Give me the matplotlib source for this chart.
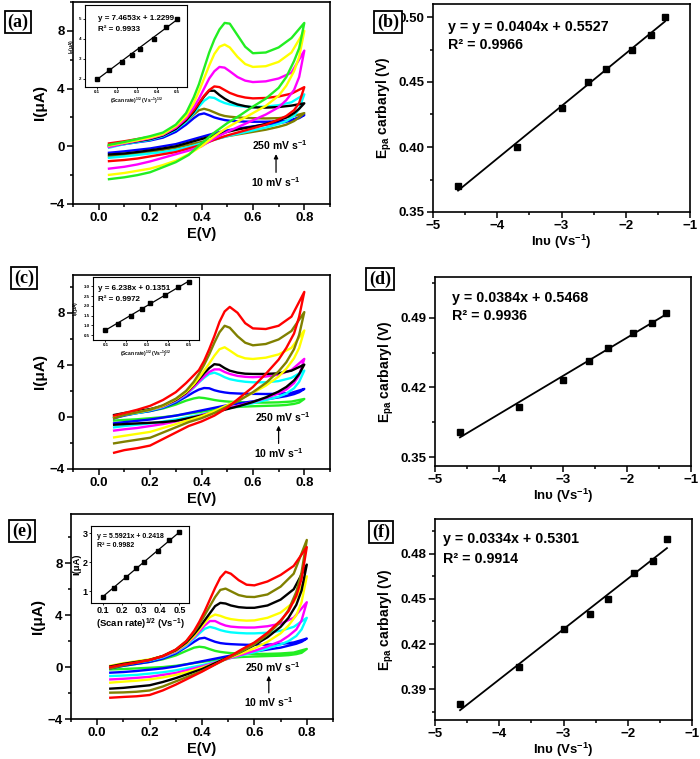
import matplotlib
matplotlib.use("Agg")
import matplotlib.pyplot as plt
from matplotlib.ticker import MultipleLocator, FixedLocator

plt.rcParams.update({
    "font.family": "Liberation Sans",
    "font.weight": "bold",
    "axes.labelweight": "bold",
    "mathtext.fontset": "custom",
    "mathtext.rm": "Liberation Sans:bold",
    "mathtext.it": "Liberation Sans:bold:italic",
    "mathtext.bf": "Liberation Sans:bold",
    "axes.linewidth": 1.2,
})

# ---------------- data ----------------
sqrt_v = [0.100, 0.158, 0.224, 0.274, 0.316, 0.387, 0.447, 0.500]
ln_v = [-4.61, -3.69, -3.00, -2.59, -2.30, -1.90, -1.61, -1.39]

# scan rate order 10 -> 250 mV/s
colors_a = ["#0000ff", "#808000", "#00ffff", "#000000", "#ff0000", "#ff00ff", "#ffff00", "#22ee22"]
colors_c = ["#22ee22", "#0000ff", "#00ffff", "#ff00ff", "#000000", "#ffff00", "#808000", "#ff0000"]
colors_e = ["#22ee22", "#0000ff", "#00ffff", "#ff00ff", "#ffff00", "#000000", "#808000", "#ff0000"]

e_fwd_mid = [0.1, 0.15, 0.2, 0.25, 0.3, 0.34, 0.37, 0.39, 0.41, 0.43, 0.45, 0.47,
             0.49, 0.51, 0.54, 0.57, 0.6, 0.65, 0.7, 0.75, 0.8]
e_rev_mid = [0.8, 0.78, 0.76, 0.73, 0.7, 0.65, 0.6, 0.55, 0.5, 0.45, 0.4, 0.35,
             0.3, 0.25, 0.2, 0.15, 0.1]
e_start_a, e_start_c, e_start_e = 0.04, 0.06, 0.05

# panel (a) currents (uA)
cv_a_fwd = [
    [0.0, 0.15, 0.28, 0.4, 0.6, 1.0, 1.5, 1.95, 2.2, 2.28, 2.15, 2.0, 1.9, 1.82, 1.77, 1.73, 1.71, 1.7, 1.7, 1.73, 1.8, 2.17],
    [0.1, 0.3, 0.45, 0.6, 0.8, 1.2, 1.7, 2.2, 2.5, 2.6, 2.5, 2.35, 2.2, 2.1, 2.05, 2.0, 1.97, 1.95, 1.93, 1.95, 2.05, 2.3],
    [-0.1, 0.15, 0.3, 0.45, 0.7, 1.15, 1.7, 2.3, 2.75, 3.15, 3.4, 3.35, 3.15, 3.0, 2.9, 2.8, 2.75, 2.72, 2.75, 2.85, 3.05, 3.6],
    [0.0, 0.2, 0.35, 0.5, 0.75, 1.2, 1.8, 2.4, 2.95, 3.45, 3.85, 3.85, 3.55, 3.3, 3.1, 2.9, 2.78, 2.7, 2.68, 2.72, 2.82, 2.98],
    [0.2, 0.35, 0.5, 0.65, 0.85, 1.3, 1.9, 2.5, 3.0, 3.5, 3.9, 4.15, 4.1, 3.9, 3.7, 3.5, 3.38, 3.32, 3.35, 3.45, 3.65, 4.1],
    [-0.05, 0.2, 0.38, 0.55, 0.8, 1.3, 1.95, 2.7, 3.3, 4.0, 4.7, 5.2, 5.5, 5.45, 5.2, 4.8, 4.55, 4.45, 4.5, 4.7, 5.1, 6.63],
    [0.05, 0.25, 0.42, 0.6, 0.85, 1.4, 2.1, 3.0, 3.8, 4.7, 5.6, 6.4, 6.9, 7.05, 6.85, 6.2, 5.7, 5.5, 5.55, 5.85, 6.5, 8.0],
    [0.1, 0.3, 0.5, 0.7, 0.95, 1.5, 2.3, 3.4, 4.3, 5.4, 6.5, 7.4, 8.1, 8.55, 8.5, 7.7, 6.9, 6.45, 6.5, 6.85, 7.5, 8.55],
]
cv_a_rev = [
    [2.17, 1.95, 1.85, 1.7, 1.6, 1.5, 1.38, 1.25, 1.1, 0.9, 0.65, 0.4, 0.15, 0.0, -0.15, -0.25, -0.35, -0.45],
    [2.3, 2.0, 1.75, 1.5, 1.35, 1.15, 1.0, 0.85, 0.7, 0.5, 0.3, 0.1, -0.1, -0.25, -0.4, -0.5, -0.6, -0.7],
    [3.6, 2.6, 2.1, 1.75, 1.55, 1.3, 1.1, 0.9, 0.7, 0.45, 0.2, -0.05, -0.25, -0.4, -0.5, -0.6, -0.7, -0.8],
    [2.98, 2.6, 2.3, 2.0, 1.8, 1.55, 1.35, 1.2, 1.0, 0.75, 0.5, 0.25, 0.0, -0.15, -0.28, -0.4, -0.5, -0.57],
    [4.1, 3.0, 2.5, 2.1, 1.85, 1.5, 1.25, 1.0, 0.75, 0.45, 0.1, -0.15, -0.4, -0.55, -0.7, -0.85, -0.95, -1.03],
    [6.63, 4.8, 3.9, 3.2, 2.7, 2.2, 1.8, 1.4, 1.0, 0.55, 0.0, -0.3, -0.55, -0.8, -1.05, -1.26, -1.42, -1.55],
    [8.0, 6.2, 5.2, 4.2, 3.5, 2.8, 2.3, 1.8, 1.3, 0.7, 0.0, -0.55, -1.0, -1.3, -1.55, -1.7, -1.85, -1.98],
    [8.55, 6.8, 5.9, 4.8, 4.05, 3.3, 2.75, 2.15, 1.6, 0.95, 0.2, -0.6, -1.1, -1.45, -1.8, -2.0, -2.15, -2.28],
]

# panel (c) currents (uA)
cv_c_fwd = [
    [0.0, 0.15, 0.3, 0.45, 0.65, 0.95, 1.25, 1.42, 1.49, 1.45, 1.38, 1.3, 1.24, 1.2, 1.17, 1.14, 1.12, 1.1, 1.1, 1.12, 1.18, 1.38],
    [-0.1, 0.1, 0.3, 0.45, 0.7, 1.1, 1.55, 1.9, 2.1, 2.22, 2.2, 2.05, 1.95, 1.88, 1.83, 1.8, 1.78, 1.77, 1.76, 1.78, 1.85, 2.15],
    [-0.05, 0.15, 0.3, 0.5, 0.75, 1.2, 1.7, 2.25, 2.65, 3.0, 3.3, 3.4, 3.25, 3.05, 2.9, 2.78, 2.7, 2.66, 2.66, 2.75, 3.0, 3.56],
    [0.05, 0.25, 0.4, 0.55, 0.8, 1.25, 1.75, 2.3, 2.7, 3.1, 3.45, 3.65, 3.65, 3.45, 3.3, 3.15, 3.08, 3.05, 3.1, 3.25, 3.6, 4.46],
    [0.15, 0.3, 0.45, 0.6, 0.85, 1.3, 1.85, 2.45, 2.9, 3.35, 3.75, 4.05, 4.0, 3.75, 3.55, 3.4, 3.32, 3.3, 3.3, 3.35, 3.55, 4.02],
    [0.0, 0.2, 0.35, 0.55, 0.85, 1.35, 1.9, 2.5, 3.0, 3.55, 4.1, 4.7, 5.2, 5.35, 5.1, 4.7, 4.5, 4.45, 4.55, 4.8, 5.3, 6.64],
    [-0.1, 0.15, 0.35, 0.55, 0.9, 1.4, 2.0, 2.7, 3.3, 4.0, 4.8, 5.7, 6.5, 7.0, 6.85, 6.2, 5.7, 5.5, 5.6, 5.95, 6.6, 8.05],
    [0.1, 0.3, 0.55, 0.85, 1.3, 1.9, 2.6, 3.2, 3.6, 4.3, 5.2, 6.2, 7.3, 8.1, 8.45, 8.0, 7.2, 6.8, 6.75, 7.0, 7.7, 9.6],
]
cv_c_rev = [
    [1.38, 1.1, 1.0, 0.92, 0.88, 0.85, 0.82, 0.78, 0.7, 0.55, 0.4, 0.25, 0.1, -0.02, -0.1, -0.18, -0.23, -0.28],
    [2.15, 1.9, 1.75, 1.6, 1.5, 1.35, 1.2, 1.05, 0.9, 0.7, 0.5, 0.3, 0.1, -0.05, -0.2, -0.3, -0.4, -0.49],
    [3.56, 2.7, 2.2, 1.8, 1.55, 1.3, 1.05, 0.85, 0.65, 0.42, 0.2, 0.0, -0.2, -0.35, -0.5, -0.6, -0.7, -0.8],
    [4.46, 3.2, 2.6, 2.1, 1.8, 1.45, 1.15, 0.9, 0.65, 0.4, 0.15, -0.1, -0.35, -0.55, -0.7, -0.85, -0.95, -1.05],
    [4.02, 3.3, 2.8, 2.3, 1.95, 1.5, 1.15, 0.85, 0.6, 0.35, 0.1, -0.1, -0.3, -0.4, -0.45, -0.5, -0.55, -0.6],
    [6.64, 5.3, 4.5, 3.7, 3.1, 2.4, 1.85, 1.35, 0.9, 0.45, 0.05, -0.25, -0.55, -0.85, -1.15, -1.3, -1.45, -1.57],
    [8.05, 6.3, 5.2, 4.2, 3.5, 2.6, 1.9, 1.3, 0.8, 0.3, -0.1, -0.4, -0.8, -1.2, -1.6, -1.75, -1.9, -2.03],
    [9.6, 7.7, 6.4, 5.3, 4.4, 3.3, 2.3, 1.5, 0.7, 0.1, -0.35, -0.7, -1.2, -1.7, -2.2, -2.4, -2.55, -2.75],
]

# panel (e) currents (uA)
cv_e_fwd = [
    [-0.05, 0.1, 0.25, 0.4, 0.6, 0.9, 1.25, 1.5, 1.57, 1.52, 1.38, 1.25, 1.17, 1.12, 1.08, 1.05, 1.03, 1.02, 1.02, 1.05, 1.12, 1.4],
    [-0.1, 0.1, 0.25, 0.4, 0.65, 1.05, 1.55, 1.95, 2.2, 2.26, 2.1, 1.95, 1.85, 1.8, 1.77, 1.74, 1.72, 1.72, 1.73, 1.78, 1.9, 2.2],
    [0.0, 0.2, 0.35, 0.5, 0.75, 1.15, 1.65, 2.2, 2.6, 2.95, 3.1, 3.0, 2.85, 2.75, 2.68, 2.63, 2.6, 2.6, 2.65, 2.8, 3.1, 3.8],
    [0.05, 0.25, 0.4, 0.55, 0.8, 1.2, 1.75, 2.3, 2.75, 3.2, 3.55, 3.55, 3.35, 3.2, 3.12, 3.07, 3.05, 3.05, 3.15, 3.35, 3.8, 5.0],
    [0.1, 0.3, 0.45, 0.6, 0.85, 1.25, 1.8, 2.4, 2.9, 3.4, 3.85, 4.05, 3.95, 3.8, 3.7, 3.62, 3.58, 3.6, 3.8, 4.2, 5.0, 7.0],
    [0.05, 0.25, 0.4, 0.55, 0.85, 1.3, 1.9, 2.55, 3.05, 3.6, 4.15, 4.7, 4.95, 4.9, 4.75, 4.62, 4.57, 4.57, 4.75, 5.2, 6.0, 7.9],
    [-0.1, 0.15, 0.35, 0.55, 0.85, 1.35, 2.0, 2.7, 3.3, 4.0, 4.7, 5.4, 5.95, 6.05, 5.85, 5.55, 5.42, 5.4, 5.6, 6.2, 7.2, 9.8],
    [0.0, 0.2, 0.35, 0.55, 0.85, 1.35, 2.0, 2.8, 3.5, 4.3, 5.2, 6.1, 6.9, 7.35, 7.2, 6.7, 6.35, 6.3, 6.6, 7.1, 7.8, 9.25],
]
cv_e_rev = [
    [1.4, 1.1, 1.0, 0.92, 0.88, 0.85, 0.82, 0.78, 0.7, 0.55, 0.4, 0.25, 0.1, 0.0, -0.05, -0.1, -0.15, -0.18],
    [2.2, 1.95, 1.8, 1.65, 1.5, 1.35, 1.2, 1.05, 0.85, 0.65, 0.45, 0.25, 0.05, -0.1, -0.2, -0.3, -0.38, -0.43],
    [3.8, 2.9, 2.4, 2.0, 1.75, 1.45, 1.15, 0.9, 0.65, 0.4, 0.15, -0.05, -0.25, -0.4, -0.5, -0.6, -0.65, -0.69],
    [5.0, 3.6, 2.9, 2.4, 2.0, 1.6, 1.25, 0.95, 0.65, 0.35, 0.05, -0.2, -0.45, -0.6, -0.75, -0.83, -0.9, -0.95],
    [7.0, 5.0, 4.0, 3.2, 2.6, 1.95, 1.45, 1.05, 0.7, 0.3, -0.05, -0.35, -0.6, -0.8, -0.95, -1.05, -1.12, -1.2],
    [7.9, 5.9, 4.8, 3.8, 3.1, 2.3, 1.7, 1.2, 0.75, 0.3, -0.15, -0.5, -0.85, -1.15, -1.4, -1.5, -1.6, -1.66],
    [9.8, 7.3, 5.8, 4.4, 3.5, 2.5, 1.75, 1.2, 0.7, 0.2, -0.3, -0.7, -1.1, -1.5, -1.8, -1.9, -1.95, -1.97],
    [9.25, 6.8, 5.5, 4.3, 3.6, 2.65, 1.9, 1.35, 0.75, 0.2, -0.35, -0.85, -1.35, -1.8, -2.15, -2.25, -2.3, -2.36],
]

# insets: peak current vs sqrt(scan rate)
ip_a = [2.0, 2.45, 2.87, 3.2, 3.5, 4.02, 4.6, 4.98]
ip_c = [0.78, 1.08, 1.48, 1.83, 2.13, 2.55, 2.96, 3.24]
ip_e = [0.8, 1.1, 1.5, 1.8, 2.0, 2.4, 2.75, 3.04]
fit_a = (7.4653, 1.2299, "0.9933")
fit_c = (6.238, 0.1351, "0.9972")
fit_e = (5.5921, 0.2418, "0.9982")

# Epa vs ln(v)
epa_b = [0.370, 0.400, 0.430, 0.450, 0.460, 0.475, 0.486, 0.500]
epa_d = [0.375, 0.400, 0.427, 0.447, 0.460, 0.475, 0.485, 0.495]
epa_f = [0.380, 0.405, 0.430, 0.440, 0.450, 0.467, 0.475, 0.490]
line_b = (0.0404, 0.5527)
line_d = (0.0384, 0.5468)
line_f = (0.0334, 0.5301)

W, H = 700, 759
fig = plt.figure(figsize=(7.0, 7.59), dpi=100)


def rect(left, top, right, bottom):
    return [left / W, 1 - bottom / H, (right - left) / W, (bottom - top) / H]


def style(ax, fs=9.5):
    ax.tick_params(which="both", direction="out", top=False, right=False,
                   width=1.1, labelsize=fs, pad=2)
    ax.tick_params(which="major", length=4)
    ax.tick_params(which="minor", length=2.5)
    for lab in ax.get_xticklabels() + ax.get_yticklabels():
        lab.set_fontweight("bold")


def cv_panel(box, e0, fwd, rev, colors, ylim, arrow_x, lab_y):
    ax = fig.add_axes(rect(*box))
    xs = [e0] + e_fwd_mid + e_rev_mid + [e0]
    for f, r, c in zip(fwd, rev, colors):
        ax.plot(xs, f + r, color=c, lw=1.7, solid_joinstyle="round")
    ax.set_xlim(-0.1, 0.9)
    ax.set_ylim(*ylim)
    ax.xaxis.set_major_locator(FixedLocator([0.0, 0.2, 0.4, 0.6, 0.8]))
    ax.xaxis.set_minor_locator(MultipleLocator(0.1))
    ax.yaxis.set_major_locator(FixedLocator([-4, 0, 4, 8]))
    ax.yaxis.set_minor_locator(MultipleLocator(2))
    ax.set_xticklabels(["0.0", "0.2", "0.4", "0.6", "0.8"])
    style(ax)
    ax.set_xlabel("E(V)", fontsize=10.5, labelpad=2)
    ax.set_ylabel("I(μA)", fontsize=11, labelpad=2)
    ax.text(arrow_x + 0.015, lab_y[0], "250 mV s$^{-1}$", fontsize=7.5,
            ha="center", va="center")
    ax.text(arrow_x, lab_y[1], "10 mV s$^{-1}$", fontsize=7.5,
            ha="center", va="center")
    ax.annotate("", xy=(arrow_x, lab_y[0] - 0.45), xytext=(arrow_x, lab_y[1] + 0.5),
                arrowprops=dict(arrowstyle="-|>", color="k", lw=0.9,
                                mutation_scale=6))
    return ax


def inset(box, ip, fit, ylim, yticks, fs, ylab, xlab, eq_pos, eq_fs):
    ax = fig.add_axes(rect(*box))
    ax.plot(sqrt_v, ip, "ks", ms=2.2)
    m, b = fit[0], fit[1]
    ax.plot([sqrt_v[0], sqrt_v[-1]], [m * sqrt_v[0] + b, m * sqrt_v[-1] + b],
            color="k", lw=0.9)
    ax.set_xlim(0.04, 0.55)
    ax.set_ylim(*ylim)
    ax.xaxis.set_major_locator(FixedLocator([0.1, 0.2, 0.3, 0.4, 0.5]))
    ax.yaxis.set_major_locator(FixedLocator(yticks))
    ax.tick_params(which="both", direction="out", length=1.5, width=0.6,
                   labelsize=fs, pad=1)
    for s in ax.spines.values():
        s.set_linewidth(0.8)
    ax.set_ylabel(ylab, fontsize=fs + 0.3, labelpad=1)
    ax.set_xlabel(xlab, fontsize=fs + 0.3, labelpad=1)
    ax.text(eq_pos[0], eq_pos[1], "y = %sx + %s" % (str(m), str(b)),
            transform=ax.transAxes, fontsize=eq_fs)
    ax.text(eq_pos[0], eq_pos[2], "R² = " + fit[2], transform=ax.transAxes,
            fontsize=eq_fs)
    return ax


def epa_panel(box, epa, line, ylim, yticks, ymin_step, eq, eq_xy):
    ax = fig.add_axes(rect(*box))
    m, b = line
    ax.plot([ln_v[0], ln_v[-1]], [m * ln_v[0] + b, m * ln_v[-1] + b],
            color="k", lw=1.3)
    ax.plot(ln_v, epa, "ks", ms=4)
    ax.set_xlim(-5, -1)
    ax.set_ylim(*ylim)
    ax.xaxis.set_major_locator(MultipleLocator(1))
    ax.xaxis.set_minor_locator(MultipleLocator(0.5))
    ax.yaxis.set_major_locator(FixedLocator(yticks))
    ax.yaxis.set_minor_locator(MultipleLocator(ymin_step))
    ax.set_yticklabels(["%.2f" % t for t in yticks])
    style(ax)
    ax.set_xlabel("lnυ (Vs$^{-1}$)", fontsize=9.5, labelpad=0)
    ax.set_ylabel("E$_{\\mathrm{pa}}$ carbaryl (V)", fontsize=10, labelpad=3)
    ax.text(eq_xy[0], eq_xy[1], eq, fontsize=10.3, va="center")
    ax.text(eq_xy[0], eq_xy[2], "R² = " + eq_xy[3], fontsize=10.3, va="center")
    return ax


def panel_label(x, y, s):
    fig.text(x / W, 1 - y / H, s, fontsize=13, fontweight="bold",
             family="Liberation Serif", ha="center", va="center",
             bbox=dict(boxstyle="square,pad=0.15", fc="white", ec="k", lw=1.3))


# (a)
cv_panel((73, 2, 330, 204), e_start_a, cv_a_fwd, cv_a_rev, colors_a, (-4, 10),
         0.69, (0.1, -2.5))
inset((85, 5, 187, 87), ip_a, fit_a, (1.6, 5.7), [2, 3, 4, 5], 3.2,
      "I$_p$(μA)", "(Scan rate)$^{1/2}$ (V s$^{-1}$)$^{1/2}$", (0.13, 0.82, 0.68), 5.8)
# (b)
epa_panel((433, 4, 690, 212), epa_b, line_b, (0.35, 0.51), [0.35, 0.40, 0.45, 0.50],
          0.025, "y = y = 0.0404x + 0.5527", (-4.77, 0.4925, 0.4785, "0.9966"))
# (c)
cv_panel((73, 275, 330, 469), e_start_c, cv_c_fwd, cv_c_rev, colors_c, (-4, 10.9),
         0.70, (0.0, -2.75))
inset((93, 277, 199, 340), ip_c, fit_c, (0.26, 3.47), [0.5, 1.0, 1.5, 2.0, 2.5, 3.0],
      3.2, "I$_p$(μA)", "(Scan rate)$^{1/2}$ (Vs$^{-1}$)$^{1/2}$", (0.05, 0.80, 0.62), 5.8)
# (d)
epa_panel((435, 277, 691, 466), epa_d, line_d, (0.341, 0.531), [0.35, 0.42, 0.49],
          0.035, "y = 0.0384x + 0.5468", (-4.74, 0.51, 0.4917, "0.9936"))
# (e)
cv_panel((71, 514, 333, 719), e_start_e, cv_e_fwd, cv_e_rev, colors_e, (-4, 11.8),
         0.655, (0.0, -2.7))
inset((91, 526, 189, 603), ip_e, fit_e, (0.59, 3.25), [1, 2, 3], 6.5,
      "I(μA)", "(Scan rate)$^{1/2}$ (Vs$^{-1}$)", (0.06, 0.85, 0.73), 5.0)
# (f)
epa_panel((435, 519, 692, 720), epa_f, line_f, (0.3696, 0.503), [0.39, 0.42, 0.45, 0.48],
          0.015, "y = 0.0334x + 0.5301", (-4.87, 0.4897, 0.4765, "0.9914"))

panel_label(18, 22, "(a)")
panel_label(388, 22, "(b)")
panel_label(24, 278, "(c)")
panel_label(380, 279, "(d)")
panel_label(22, 531, "(e)")
panel_label(381, 532, "(f)")

fig.savefig("out.png", dpi=100)
